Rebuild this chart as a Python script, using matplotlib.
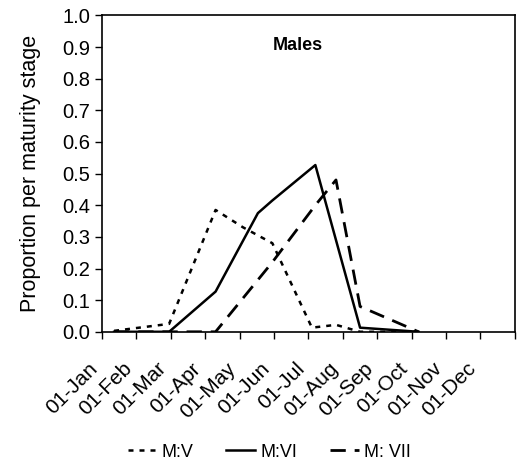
import numpy as np
import matplotlib
matplotlib.use("Agg")
import matplotlib.pyplot as plt
from matplotlib.transforms import ScaledTranslation

plt.rcParams['font.family'] = ['Liberation Sans', 'DejaVu Sans']

# ------------------------------
# data (x = months since 01-Jan)
# ------------------------------
month_labels = ['01-Jan', '01-Feb', '01-Mar', '01-Apr', '01-May', '01-Jun',
                '01-Jul', '01-Aug', '01-Sep', '01-Oct', '01-Nov', '01-Dec']

mv_x = [0.35, 1.95, 3.3, 4.1, 4.95, 6.1, 6.8, 7.5, 9.2]
mv_y = [0.003, 0.025, 0.385, 0.33, 0.28, 0.013, 0.022, 0.0, 0.0]

mvi_x = [0.35, 1.95, 3.3, 4.53, 4.95, 6.2, 7.5, 9.2]
mvi_y = [0.0, 0.0, 0.127, 0.375, 0.415, 0.527, 0.013, 0.0]

mvii_x = [0.35, 1.95, 3.3, 4.95, 6.2, 6.8, 7.5, 9.2]
mvii_y = [0.0, 0.0, 0.0, 0.22, 0.40, 0.48, 0.08, 0.0]

# ------------------------------
# plot
# ------------------------------
fig = plt.figure(figsize=(5.18, 4.66), dpi=100)
ax = fig.add_axes([0.197, 0.288, 0.797, 0.679])

ax.plot(mv_x, mv_y, color='black', lw=1.8, dashes=(2.0, 2.4), label='M:V')
ax.plot(mvi_x, mvi_y, color='black', lw=1.8, label='M:VI')
ax.plot(mvii_x, mvii_y, color='black', lw=2.0, dashes=(5.5, 3.2), label='M: VII')

ax.set_xlim(0, 12)
ax.set_ylim(0, 1.0)
ax.set_xticks(np.arange(0, 13))
ax.set_xticklabels(month_labels + [''], rotation=45, ha='right',
                   rotation_mode='anchor', fontsize=15)
ax.set_yticks(np.arange(0, 1.01, 0.1))
ax.set_yticklabels([f'{v:.1f}' for v in np.arange(0, 1.01, 0.1)], fontsize=14.5)
ax.tick_params(axis='both', direction='out', length=5, width=1, colors='black')
ax.tick_params(axis='x', pad=3)
for s in ax.spines.values():
    s.set_linewidth(1.2)

# labels sit a bit lower/left of the ticks in the original
shift = ScaledTranslation(-14 / 100, -16 / 100, fig.dpi_scale_trans)
for lab in ax.get_xticklabels():
    lab.set_transform(lab.get_transform() + shift)

ax.set_ylabel('Proportion per maturity stage', fontsize=15.5, labelpad=15)
ax.text(0.475, 0.905, 'Males', transform=ax.transAxes, fontsize=13,
        fontweight='bold', ha='center', va='center')

fig.legend(loc='center', bbox_to_anchor=(0.52, 0.03), ncol=3, frameon=False,
           fontsize=13, handlelength=1.6, columnspacing=1.8, handletextpad=0.3)

plt.savefig('out.png', dpi=100)
